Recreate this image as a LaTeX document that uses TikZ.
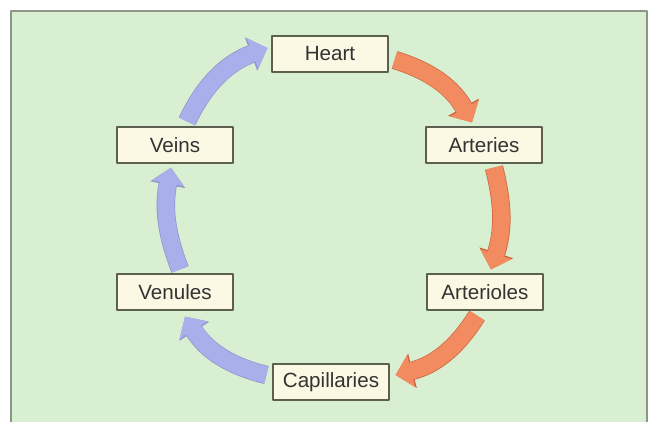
\documentclass[tikz,border=0pt]{standalone}
\usepackage{fontspec}
\setmainfont{Liberation Sans}
\usepackage{tikz}
\usetikzlibrary{calc}
\usetikzlibrary{arrows.meta}

\definecolor{panelgreen}{HTML}{D9EFD1}
\definecolor{panelline}{HTML}{8C978A}
\definecolor{boxfill}{HTML}{FBF8E3}
\definecolor{boxline}{HTML}{5C604F}
\definecolor{txtgray}{HTML}{333333}
\definecolor{redfill}{HTML}{F28B60}
\definecolor{redline}{HTML}{C9653F}
\definecolor{bluefill}{HTML}{A9AFEA}
\definecolor{blueline}{HTML}{8E94CF}

\begin{document}
\begin{tikzpicture}[
  x=0.5pt,y=0.5pt,
  line join=round,
  stage/.style={draw=boxline,fill=boxfill,line width=0.6pt,
    minimum width=58pt,minimum height=18pt,inner sep=0pt,
    text=txtgray,font=\fontsize{10.3}{12}\selectfont},
  redflow/.style={draw=redfill,line width=8.5pt,
    -{Triangle[length=8pt,width=16pt]},
    preaction={draw=redline,line width=9.2pt,-{Triangle[length=8.7pt,width=17.2pt]}}},
  blueflow/.style={draw=bluefill,line width=8.5pt,
    -{Triangle[length=8pt,width=16pt]},
    preaction={draw=blueline,line width=9.2pt,-{Triangle[length=8.7pt,width=17.2pt]}}}
]
  \useasboundingbox (0,0) rectangle (649,422);

  % Panel
  \fill[panelgreen] (11,0) rectangle (647,411);
  \draw[panelline,line width=0.8pt] (11,0) -- (11,411) -- (647,411) -- (647,0);

  % Stages of the circuit
  \node[stage] (heart)  at (330,368) {Heart};
  \node[stage] (art)    at (484,277) {Arteries};
  \node[stage] (artl)   at (485,130) {Arterioles};
  \node[stage] (cap)    at (331,40)  {Capillaries};
  \node[stage] (ven)    at (175,130) {Venules};
  \node[stage] (vein)   at (175,277) {Veins};

  % Oxygenated side
  \draw[redflow] ($(heart.east)+(6,-6)$) to[bend left=22] ($(art.north)+(-12,4)$);
  \draw[redflow] ($(art.south)+(10,-4)$) to[bend left=16] ($(artl.north)+(6,4)$);
  \draw[redflow] ($(artl.south)+(-8,-5)$) to[bend left=22] ($(cap.east)+(6,7)$);

  % Return side
  \draw[blueflow] ($(cap.west)+(-6,7)$) to[bend left=22] ($(ven.south)+(10,-6)$);
  \draw[blueflow] ($(ven.north)+(5,4)$) to[bend left=16] ($(vein.south)+(-4,-4)$);
  \draw[blueflow] ($(vein.north)+(12,5)$) to[bend left=22] ($(heart.west)+(-4,6)$);
\end{tikzpicture}
\end{document}
